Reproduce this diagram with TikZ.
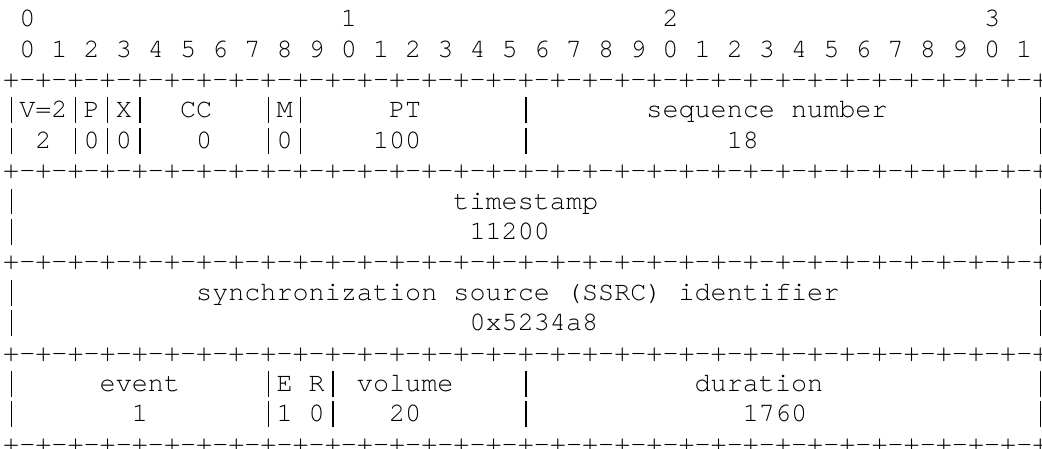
\documentclass[tikz,border=0pt]{standalone}
\usepackage{fontspec}
\setmonofont[Ligatures=NoCommon]{TeX Gyre Cursor}
\usepackage{tikz}

% one blank character cell of the mono font
\newcommand\gap[1]{\kern#1\fontcharwd\font`0\relax}
% a full +-+-...-+ border line
\newcommand\sepline{\foreach \i in {1,...,32}{+-}+}
% a tall thin field bar, one cell wide
\newcommand\barch{\makebox[\fontcharwd\font`0]{\rule[-0.2em]{0.055em}{0.96em}}}

\begin{document}
\begin{tikzpicture}[x=12.06pt, y=-22.8pt,
    asc/.style={anchor=base west, inner sep=0pt, outer sep=0pt,
        font=\ttfamily\fontsize{20.1pt}{22.8pt}\selectfont}]
    \useasboundingbox[fill=white] (0,0) rectangle (64.8, 14.737);
    		% Bit ruler:
    		\node[asc](L1) at (0.2, 0.875){\gap{1}0\gap{19}1\gap{19}2\gap{19}3};
    		\node[asc](L2) at (0.2, 1.875){~0~1~2~3~4~5~6~7~8~9~0~1~2~3~4~5~6~7~8~9~0~1~2~3~4~5~6~7~8~9~0~1};
    		\node[asc](L3) at (0.2, 2.875){\sepline};
    		% RTP header words:
    		\node[asc](L4) at (0.2, 3.875){\barch V=2\barch P\barch X\barch\gap{2}CC\gap{3}\barch M\barch\gap{5}PT\gap{6}\barch\gap{7}sequence number\gap{9}\barch};
    		\node[asc](L5) at (0.2, 4.875){\barch~2~\barch 0\barch 0\barch\gap{3}0\gap{3}\barch 0\barch\gap{4}100\gap{6}\barch\gap{12}18\gap{17}\barch};
    		\node[asc](L6) at (0.2, 5.875){\sepline};
    		\node[asc](L7) at (0.2, 6.875){\barch\gap{27}timestamp\gap{27}\barch};
    		\node[asc](L8) at (0.2, 7.875){\barch\gap{28}11200\gap{30}\barch};
    		\node[asc](L9) at (0.2, 8.875){\sepline};
    		\node[asc](L10) at (0.2, 9.875){\barch\gap{11}synchronization source (SSRC) identifier\gap{12}\barch};
    		\node[asc](L11) at (0.2, 10.875){\barch\gap{28}0x5234a8\gap{27}\barch};
    		\node[asc](L12) at (0.2, 11.875){\sepline};
    		% Event payload:
    		\node[asc](L13) at (0.2, 12.875){\barch\gap{5}event\gap{5}\barch E~R\barch~volume\gap{4}\barch\gap{10}duration\gap{13}\barch};
    		\node[asc](L14) at (0.2, 13.875){\barch\gap{7}1\gap{7}\barch 1~0\barch\gap{3}20\gap{6}\barch\gap{13}1760\gap{14}\barch};
    		\node[asc](L15) at (0.2, 14.875){\sepline};
    	\end{tikzpicture}
\end{document}
